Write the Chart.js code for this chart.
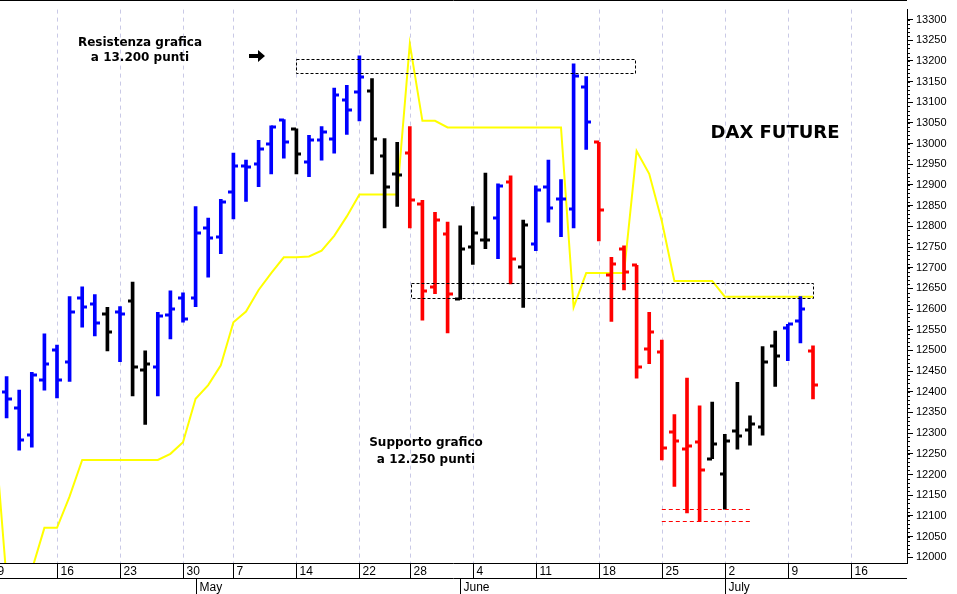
<!DOCTYPE html>
<html><head><meta charset="utf-8">
<script src="https://cdn.jsdelivr.net/npm/chart.js@4/dist/chart.umd.min.js"></script>
<style>html,body{margin:0;padding:0;background:#fff}#w{width:957px;height:594px}</style>
</head><body><div id="w"><canvas id="c"></canvas></div>
<script>
const highs =[12437,12404,12447,12540,12513,12630,12654,12635,12604,12606,12665,12499,12592,12644,12639,12848,12820,12865,12977,12960,13008,13043,13058,13036,13020,13041,13134,13141,13212,13157,13012,13003,13041,12863,12834,12810,12801,12848,12929,12903,12922,12815,12898,12960,12913,13193,13162,13003,12725,12753,12706,12592,12525,12345,12433,12366,12375,12297,12423,12342,12509,12547,12563,12630,12511];
const lows  =[12337,12259,12266,12404,12385,12425,12556,12535,12499,12473,12390,12321,12390,12528,12568,12606,12677,12734,12818,12860,12896,12927,12965,12927,12920,12960,12977,13022,13055,12927,12796,12848,12796,12573,12637,12542,12623,12708,12746,12722,12661,12604,12741,12810,12775,12796,12986,12765,12570,12646,12433,12468,12235,12171,12107,12086,12238,12116,12261,12271,12295,12413,12475,12518,12383];
const opens =[12399,12361,12295,12428,12501,12471,12627,12611,12589,12594,12620,12452,12461,12585,12627,12627,12796,12775,12884,12946,12951,12998,13058,13036,12955,13008,13012,13105,13124,13126,12970,12927,12977,12853,12654,12782,12625,12751,12768,12820,12908,12701,12758,12896,12867,12841,13136,13003,12682,12744,12706,12504,12497,12302,12261,12278,12238,12200,12304,12307,12316,12511,12554,12570,12499];
const closes=[12383,12283,12440,12468,12428,12594,12604,12566,12544,12587,12459,12468,12582,12601,12577,12784,12772,12860,12946,12943,12986,13039,13003,12974,13008,13027,13117,13081,13162,13012,12894,12924,12863,12644,12815,12637,12744,12784,12768,12898,12720,12803,12889,12844,12865,13164,13053,12839,12708,12689,12461,12544,12264,12280,12269,12211,12273,12280,12292,12321,12471,12487,12563,12599,12416];
const barColors=['b','b','b','b','b','b','b','b','k','b','k','k','b','b','b','b','b','b','b','b','b','b','b','k','b','b','b','b','b','k','k','k','r','r','r','r','k','k','k','b','r','k','b','b','b','b','b','r','r','r','r','r','r','r','r','r','k','k','k','k','k','k','b','b','r'];
const stopLine=[12326,11945,11945,11969,12071,12071,12147,12235,12235,12235,12235,12235,12235,12235,12250,12278,12383,12416,12464,12568,12594,12646,12687,12725,12725,12727,12741,12777,12824,12877,12877,12877,12877,13241,13055,13055,13039,13039,13039,13039,13039,13039,13039,13039,13039,13039,12604,12687,12687,12687,12687,12982,12927,12813,12668,12668,12668,12668,12630,12630,12630,12630,12630,12630,12630,12630];
const weekIdx=[0,5,10,15,19,24,29,33,38,43,48,53,58,63,68];
const weekLabels=['9','16','23','30','7','14','22','28','4','11','18','25','2','9','16'];
const monthIdx=[16,37,58];
const monthLabels=['May','June','July'];
const resistBox=[24,50.9,13205,13170];
const supportBox=[33.1,65,12663,12627];
const supportLines=[12116,12088];
const supportLineRange=[53,60];

const colMap={b:'#0000ff',k:'#000000',r:'#ff0000'};
const barData=highs.map((h,i)=>({x:i+1,y:[lows[i],h]}));
const lineData=stopLine.map((v,i)=>({x:i,y:v}));

const plug={
 id:'ohlc',
 beforeDatasetsDraw(ch){
  const {ctx,chartArea:a,scales:{x}}=ch;
  ctx.save();ctx.strokeStyle='#c9c9e6';ctx.lineWidth=1;ctx.setLineDash([4,4]);
  weekIdx.forEach(i=>{const px=Math.round(x.getPixelForValue(i))+0.5;if(px<a.left)return;ctx.beginPath();ctx.moveTo(px,a.top);ctx.lineTo(px,a.bottom);ctx.stroke();});
  ctx.restore();
 },
 afterDatasetsDraw(ch){
  const {ctx,chartArea:a,scales:{x,y}}=ch;
  ctx.save();
  ctx.beginPath();ctx.rect(a.left,a.top,a.right-a.left,a.bottom-a.top);ctx.clip();
  ctx.lineWidth=3;
  for(let i=0;i<highs.length;i++){
   const px=Math.round(x.getPixelForValue(i+1));
   ctx.strokeStyle=colMap[barColors[i]];
   const yo=Math.round(y.getPixelForValue(opens[i])),yc=Math.round(y.getPixelForValue(closes[i]));
   ctx.beginPath();ctx.moveTo(px-5,yo);ctx.lineTo(px,yo);ctx.moveTo(px,yc);ctx.lineTo(px+5,yc);ctx.stroke();
  }
  ctx.lineWidth=1;ctx.setLineDash([3,2]);ctx.strokeStyle='#000';
  [resistBox,supportBox].forEach(b=>{
   const x1=x.getPixelForValue(b[0]),x2=x.getPixelForValue(b[1]),y1=y.getPixelForValue(b[2]),y2=y.getPixelForValue(b[3]);
   ctx.strokeRect(Math.round(x1)+0.5,Math.round(y1)+0.5,Math.round(x2-x1),Math.round(y2-y1));
  });
  ctx.strokeStyle='#ff0000';ctx.setLineDash([4,3]);
  supportLines.forEach(v=>{const py=Math.round(y.getPixelForValue(v))+0.5;ctx.beginPath();ctx.moveTo(x.getPixelForValue(supportLineRange[0]),py);ctx.lineTo(x.getPixelForValue(supportLineRange[1]),py);ctx.stroke();});
  ctx.setLineDash([]);
  ctx.fillStyle='#000';ctx.textAlign='center';ctx.textBaseline='middle';
  ctx.font='bold 12px "DejaVu Sans"';
  ctx.fillText('Resistenza grafica',140,43);ctx.fillText('a 13.200 punti',140,58);
  ctx.fillText('Supporto grafico',426,443);ctx.fillText('a 12.250 punti',426,460);
  ctx.font='bold 18px "DejaVu Sans"';ctx.fillText('DAX FUTURE',775,133);
  ctx.beginPath();ctx.moveTo(249,54);ctx.lineTo(258,54);ctx.lineTo(258,50);ctx.lineTo(265,56);ctx.lineTo(258,62);ctx.lineTo(258,58);ctx.lineTo(249,58);ctx.closePath();ctx.fill();
  ctx.restore();
  ctx.save();ctx.strokeStyle='#000';ctx.lineWidth=1;
  ctx.beginPath();ctx.moveTo(0,0.5);ctx.lineTo(a.right,0.5);ctx.stroke();
  const b=Math.round(a.bottom)+0.5;
  ctx.beginPath();ctx.moveTo(0,b);ctx.lineTo(a.right,b);ctx.moveTo(0,b+15);ctx.lineTo(a.right,b+15);ctx.stroke();
  ctx.font='12px "Liberation Sans"';ctx.fillStyle='#000';ctx.textAlign='left';ctx.textBaseline='middle';
  weekIdx.forEach((i,k)=>{const px=Math.round(x.getPixelForValue(i))+0.5;ctx.beginPath();ctx.moveTo(px,b);ctx.lineTo(px,b+15);ctx.stroke();ctx.fillText(weekLabels[k],px+3,b+8);});
  monthIdx.forEach((i,k)=>{const px=Math.round(x.getPixelForValue(i))+0.5;ctx.beginPath();ctx.moveTo(px,b+15);ctx.lineTo(px,594);ctx.stroke();ctx.fillText(monthLabels[k],px+3,b+24);});
  for(let v=12000;v<=13300;v+=10){const py=Math.round(y.getPixelForValue(v))+0.5;ctx.beginPath();ctx.moveTo(a.right,py);ctx.lineTo(a.right+3,py);ctx.stroke();}
  ctx.restore();
 }
};

new Chart(document.getElementById('c'),{
 data:{datasets:[
  {type:'line',data:lineData,borderColor:'#ffff00',borderWidth:2,pointRadius:0,tension:0,order:2},
  {type:'bar',data:barData,backgroundColor:barData.map((d,i)=>colMap[barColors[i]]),barThickness:3,order:1}
 ]},
 options:{responsive:true,maintainAspectRatio:false,animation:false,
  layout:{padding:{left:0,top:0,right:0,bottom:31}},
  plugins:{legend:{display:false},tooltip:{enabled:false}},
  scales:{
   x:{type:'linear',min:0.476,max:72.46,offset:false,display:false},
   y:{position:'right',min:11986,max:13324,
     afterBuildTicks(s){s.ticks=[];for(let v=12000;v<=13300;v+=50)s.ticks.push({value:v});},
     afterFit(s){s.width=50;},
     grid:{drawOnChartArea:false,tickLength:6,color:'#000'},
     border:{color:'#000'},
     ticks:{color:'#000',font:{family:'Liberation Sans',size:11},padding:3,callback:v=>String(v)}}
  }}
 ,plugins:[plug]});
</script></body></html>
